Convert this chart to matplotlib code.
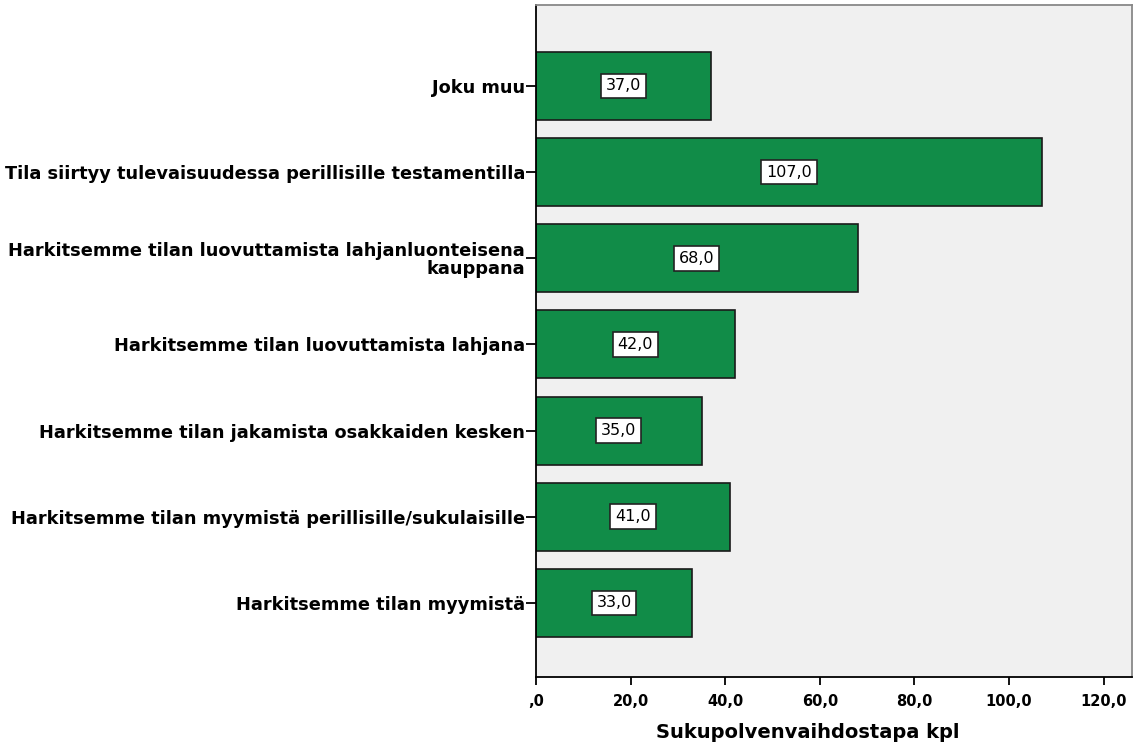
import matplotlib
matplotlib.use("Agg")
import matplotlib.pyplot as plt

categories = [
    "Harkitsemme tilan myymistä",
    "Harkitsemme tilan myymistä perillisille/sukulaisille",
    "Harkitsemme tilan jakamista osakkaiden kesken",
    "Harkitsemme tilan luovuttamista lahjana",
    "Harkitsemme tilan luovuttamista lahjanluonteisena\nkauppana",
    "Tila siirtyy tulevaisuudessa perillisille testamentilla",
    "Joku muu",
]
values = [33.0, 41.0, 35.0, 42.0, 68.0, 107.0, 37.0]
xticks = [0, 20, 40, 60, 80, 100, 120]
xtick_labels = [",0", "20,0", "40,0", "60,0", "80,0", "100,0", "120,0"]
xlabel = "Sukupolvenvaihdostapa kpl"

plt.rcParams['font.family'] = ['DejaVu Sans']

fig = plt.figure(figsize=(11.39, 7.47), dpi=100)
ax = fig.add_axes([536/1139, 1 - 677/747, (1132-536)/1139, (677-5)/747])
ax.set_facecolor("#f0f0f0")

pos = list(range(len(categories)))
bars = ax.barh(pos, values, height=0.79, color="#118c48", edgecolor="#1a1a1a", linewidth=1.2, zorder=2)

for p, v in zip(pos, values):
    ax.text(v / 2, p, f"{v:.1f}".replace(".", ","), ha="center", va="center",
            fontsize=11.5, color="black", zorder=3,
            bbox=dict(boxstyle="square,pad=0.3", facecolor="white", edgecolor="#222222", linewidth=1.2))

ax.set_xlim(0, 126)
ax.set_ylim(-0.86, 6.94)
ax.set_yticks(pos)
ax.set_yticklabels(categories, fontsize=12.8, fontweight="bold", linespacing=1.0)
ax.set_xticks(xticks)
ax.set_xticklabels(xtick_labels, fontsize=10.5, fontweight="bold")
ax.tick_params(axis="y", length=7, width=1.3, pad=1)
ax.tick_params(axis="x", length=6, width=1.3, pad=6)
ax.set_xlabel(xlabel, fontsize=14, fontweight="bold", labelpad=10)
ax.xaxis.label.set_x((808 - 536) / 596)

for s in ["left", "bottom"]:
    ax.spines[s].set_color("black")
    ax.spines[s].set_linewidth(1.3)
for s in ["top", "right"]:
    ax.spines[s].set_color("#888888")
    ax.spines[s].set_linewidth(1.3)

fig.savefig("out.png", dpi=100)
